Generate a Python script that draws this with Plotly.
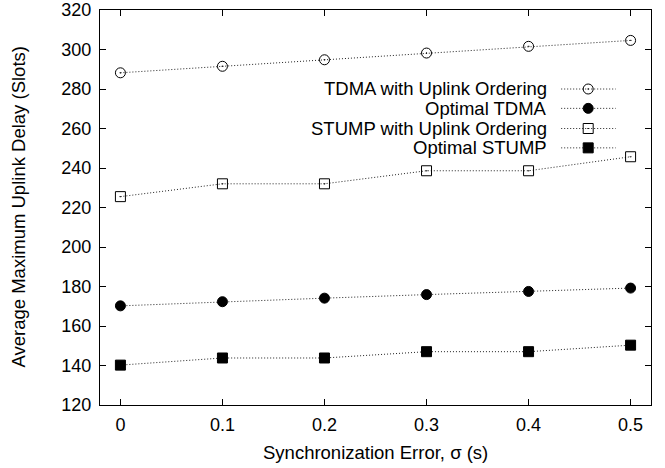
import plotly.graph_objects as go

# ---- data ----
sigma = [0, 0.1, 0.2, 0.3, 0.4, 0.5]
tdma_uo = [288.2, 291.5, 294.8, 298.2, 301.6, 304.6]
opt_tdma = [170.2, 172.3, 174.1, 175.9, 177.5, 179.2]
stump_uo = [225.5, 232.0, 232.0, 238.6, 238.6, 245.7]
opt_stump = [140.2, 143.8, 143.8, 147.0, 147.0, 150.3]

series_names = ["TDMA with Uplink Ordering", "Optimal TDMA",
                "STUMP with Uplink Ordering", "Optimal STUMP"]
series_values = [tdma_uo, opt_tdma, stump_uo, opt_stump]
symbols = ["circle-open-dot", "circle", "square-open-dot", "square"]

y_ticks = list(range(120, 321, 20))
x_ticks = [0, 0.1, 0.2, 0.3, 0.4, 0.5]
x_tick_labels = ["0", "0.1", "0.2", "0.3", "0.4", "0.5"]

FONT = "Liberation Sans, Arial, Helvetica, sans-serif"
LINE = dict(color="#222222", width=1, dash="1px,2px")
FS = 18.5

fig = go.Figure()
for name, vals, sym in zip(series_names, series_values, symbols):
    fig.add_trace(go.Scatter(
        x=sigma, y=vals, mode="lines+markers", name=name,
        line=LINE,
        marker=dict(symbol=sym, size=10, color="black",
                    line=dict(color="black", width=1)),
        showlegend=False,
    ))

# custom gnuplot-style legend (text right, sample at right)
leg_y = [0.800, 0.751, 0.700, 0.651]
for name, sym, ly in zip(series_names, symbols, leg_y):
    fig.add_annotation(xref="paper", yref="paper", x=0.815, y=ly,
                       text=name, showarrow=False, xanchor="right",
                       yanchor="middle",
                       font=dict(family=FONT, size=FS, color="black"))
    fig.add_trace(go.Scatter(
        x=[0.837, 0.886, 0.936], y=[ly, ly, ly], xaxis="x2", yaxis="y2",
        mode="lines", line=LINE, showlegend=False, hoverinfo="skip"))
    fig.add_trace(go.Scatter(
        x=[0.886], y=[ly], xaxis="x2", yaxis="y2", mode="markers",
        marker=dict(symbol=sym, size=10, color="black",
                    line=dict(color="black", width=1)),
        showlegend=False, hoverinfo="skip"))

# axis titles as annotations for precise placement
fig.add_annotation(xref="paper", yref="paper", x=0.5, y=-0.1215,
                   text="Synchronization Error, σ (s)", showarrow=False,
                   xanchor="center", yanchor="middle",
                   font=dict(family=FONT, size=FS, color="black"))
fig.add_annotation(xref="paper", yref="paper", x=-0.1488, y=0.5,
                   text="Average Maximum Uplink Delay (Slots)",
                   showarrow=False, textangle=-90,
                   xanchor="center", yanchor="middle",
                   font=dict(family=FONT, size=FS, color="black"))

axis_common = dict(showline=True, linecolor="black", linewidth=1,
                   mirror="ticks", ticks="inside", ticklen=6,
                   tickcolor="black", tickwidth=1, showgrid=False,
                   zeroline=False, automargin=False,
                   ticklabeloverflow="allow",
                   tickfont=dict(family=FONT, size=18, color="black"))

fig.update_layout(
    template="none",
    width=665, height=468,
    margin=dict(l=100, r=14, t=10, b=63),
    paper_bgcolor="white", plot_bgcolor="white",
    font=dict(family=FONT, size=18, color="black"),
    xaxis=dict(range=[-0.02, 0.52], tickvals=x_ticks,
               ticktext=x_tick_labels, ticklabelstandoff=3,
               **axis_common),
    yaxis=dict(range=[120, 320], tickvals=y_ticks, ticklabelstandoff=4,
               **axis_common),
    xaxis2=dict(overlaying="x", range=[0, 1], visible=False,
                fixedrange=True),
    yaxis2=dict(overlaying="y", range=[0, 1], visible=False,
                fixedrange=True),
)

fig.write_html("out.html",
               config={"displayModeBar": False},
               post_script="document.body.style.margin='0';"
                           "document.body.style.padding='0';")
